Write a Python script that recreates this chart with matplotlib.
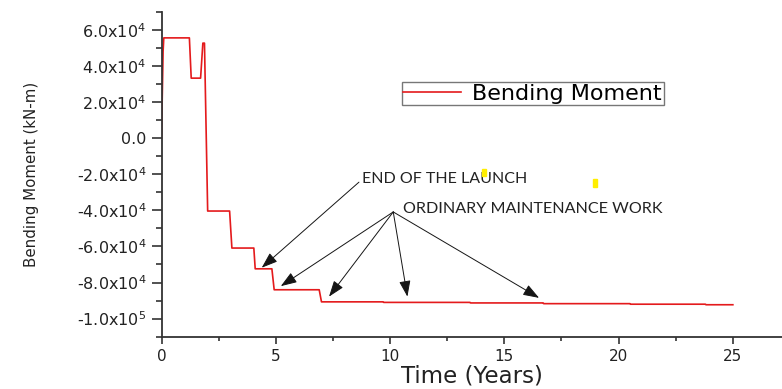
import numpy as np
import matplotlib
matplotlib.use('Agg')
import matplotlib.pyplot as plt
from matplotlib import font_manager
from matplotlib.ticker import MultipleLocator, FixedLocator, FixedFormatter
from matplotlib.patches import Rectangle

# bending moment history
time_years = [0, 0.07, 0.10, 1.22, 1.30, 1.71, 1.81, 1.88, 2.02, 2.98, 3.08,
              4.04, 4.10, 4.83, 4.93, 6.90, 7.00, 9.70, 9.72, 13.50, 13.52,
              16.70, 16.72, 20.50, 20.52, 23.80, 23.82, 25.00]
moment_knm = [0, 48000, 55500, 55500, 33200, 33200, 52600, 52600, -40400,
              -40400, -60900, -60900, -72400, -72400, -84000, -84000, -90700,
              -90700, -91000, -91000, -91300, -91300, -91700, -91700, -92000,
              -92000, -92300, -92300]

ytick_vals = [-1.0e5, -8.0e4, -6.0e4, -4.0e4, -2.0e4, 0.0, 2.0e4, 4.0e4, 6.0e4]
ytick_labels = ['-1.0x10$^{5}$', '-8.0x10$^{4}$', '-6.0x10$^{4}$', '-4.0x10$^{4}$',
                '-2.0x10$^{4}$', '0.0', '2.0x10$^{4}$', '4.0x10$^{4}$', '6.0x10$^{4}$']
xtick_vals = [0, 5, 10, 15, 20, 25]

# annotations: text position, arrow tail, arrow tips
launch_text = (8.77, -22800)
launch_tail = (8.64, -24400)
launch_tip = (4.385, -71800)
maint_text = (10.57, -39400)
maint_tail = (10.14, -40900)
maint_tips = [(5.22, -82000), (7.33, -87800), (10.76, -87800), (16.52, -88500)]

plt.rcParams['font.family'] = ['DejaVu Sans']
plt.rcParams['mathtext.fontset'] = 'dejavusans'

fig = plt.figure(figsize=(7.82, 3.89), dpi=100)
ax = fig.add_axes([161.5 / 782, 1 - 336.7 / 389, 1 - 161.5 / 782, (336.7 - 11.7) / 389])

ax.plot(time_years, moment_knm, color='#e41a1c', lw=1.2, label='Bending Moment')

ax.set_xlim(0, 27.15)
ax.set_ylim(-1.1e5, 7.0e4)

ax.spines['top'].set_visible(False)
ax.spines['right'].set_visible(False)
for s in ['left', 'bottom']:
    ax.spines[s].set_linewidth(1.3)
    ax.spines[s].set_color('#333333')

ax.xaxis.set_major_locator(FixedLocator(xtick_vals))
ax.xaxis.set_minor_locator(MultipleLocator(2.5))
ax.yaxis.set_major_locator(FixedLocator(ytick_vals))
ax.yaxis.set_major_formatter(FixedFormatter(ytick_labels))
ax.yaxis.set_minor_locator(MultipleLocator(1.0e4))

ax.tick_params(axis='y', which='major', length=7.5, width=1.2, colors='#333333',
               labelsize=11.5, labelcolor='#222222', pad=3.5)
ax.tick_params(axis='y', which='minor', length=4, width=1.2, colors='#333333')
ax.tick_params(axis='x', which='major', length=5, width=1.2, colors='#333333',
               labelsize=11, labelcolor='#222222', pad=4)
ax.tick_params(axis='x', which='minor', length=3, width=1.2, colors='#333333')

ax.set_xlabel('Time (Years)', fontsize=16.5, color='#222222', labelpad=0)
ax.set_ylabel('Bending Moment (kN-m)', fontsize=10.8, color='#222222')
ax.yaxis.set_label_coords((39 - 161.5) / 620.5, 0.5)

leg = ax.legend(loc='center', bbox_to_anchor=(0.598, 0.748), fontsize=16,
                frameon=True, fancybox=False, handlelength=2.6, handletextpad=0.5,
                borderpad=0.08, borderaxespad=0)
leg.get_frame().set_edgecolor('#555555')
leg.get_frame().set_linewidth(1.0)

arrow_kw = dict(arrowstyle='-|>,head_length=0.7,head_width=0.25', color='#151515',
                lw=0.7, shrinkA=0, shrinkB=0, mutation_scale=14)
ax.annotate('', xy=launch_tip, xytext=launch_tail, arrowprops=arrow_kw)
for tip in maint_tips:
    ax.annotate('', xy=tip, xytext=maint_tail, arrowprops=arrow_kw)

ax.text(*launch_text, 'END OF THE LAUNCH', family=['Lato', 'DejaVu Sans'],
        fontsize=11.5, va='center', ha='left', color='#222222')
ax.text(*maint_text, 'ORDINARY MAINTENANCE WORK', family=['Lato', 'DejaVu Sans'],
        fontsize=11.6, va='center', ha='left', color='#222222')

# two small yellow marks from the source image (pixel boxes)
marks = [(482, 169, 4, 7), (593, 179, 4, 8)]
for mx, my, mw, mh in marks:
    fig.patches.append(Rectangle((mx / 782, 1 - (my + mh) / 389), mw / 782, mh / 389,
                                 transform=fig.transFigure, color='#ffee00', zorder=5))

fig.savefig('out.png', dpi=100)
